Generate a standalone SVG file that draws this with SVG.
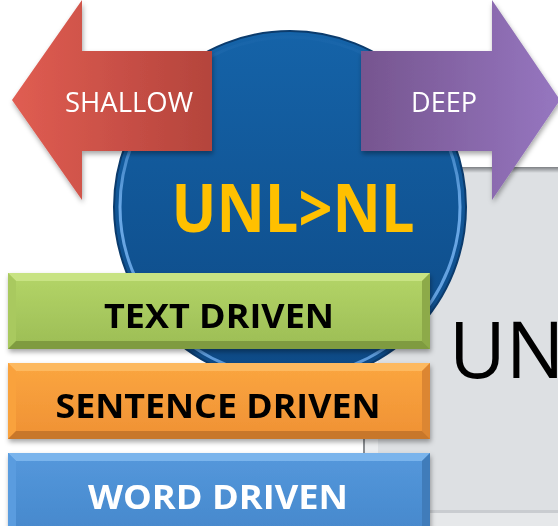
<svg xmlns="http://www.w3.org/2000/svg" width="558" height="526" viewBox="0 0 558 526">
<defs>
<style>
.lbl{font-family:"Open Sans","Liberation Sans",Arial,sans-serif;text-anchor:middle}
.bar{font-family:"Open Sans","Liberation Sans",Arial,sans-serif;font-weight:bold;text-anchor:middle;font-size:34px}
</style>
<linearGradient id="gRed" x1="0" y1="0" x2="1" y2="0"><stop offset="0" stop-color="#e05d52"/><stop offset="1" stop-color="#b4443c"/></linearGradient>
<linearGradient id="gPur" x1="0" y1="0" x2="1" y2="0"><stop offset="0" stop-color="#76558f"/><stop offset="1" stop-color="#9676c0"/></linearGradient>
<linearGradient id="gCir" x1="0" y1="0" x2="0" y2="1"><stop offset="0" stop-color="#1563a8"/><stop offset="1" stop-color="#0d4985"/></linearGradient>
<linearGradient id="gRing" x1="0" y1="0" x2="0" y2="1"><stop offset="0" stop-color="#1f69ae" stop-opacity="0.3"/><stop offset="0.5" stop-color="#6aa8e6"/><stop offset="1" stop-color="#5a98d8"/></linearGradient>
<linearGradient id="gGrn" x1="0" y1="0" x2="0" y2="1"><stop offset="0" stop-color="#b4d568"/><stop offset="1" stop-color="#9cbd55"/></linearGradient>
<linearGradient id="gOrg" x1="0" y1="0" x2="0" y2="1"><stop offset="0" stop-color="#fba640"/><stop offset="1" stop-color="#ef9134"/></linearGradient>
<linearGradient id="gBlu" x1="0" y1="0" x2="0" y2="1"><stop offset="0" stop-color="#5598dc"/><stop offset="1" stop-color="#4688cc"/></linearGradient>
<linearGradient id="gPanelTop" x1="0" y1="0" x2="0" y2="1"><stop offset="0" stop-color="#7d8084"/><stop offset="1" stop-color="#dde0e3"/></linearGradient>
<filter id="sh" x="-5%" y="-5%" width="110%" height="120%"><feDropShadow dx="1" dy="3" stdDeviation="2.5" flood-color="#000" flood-opacity="0.35"/></filter>
</defs>

<g id="panel">
<rect x="363" y="167" width="200" height="360" fill="#dde0e3"/>
<rect x="363" y="167" width="200" height="6" fill="url(#gPanelTop)"/>
<rect x="363" y="167" width="2" height="360" fill="#8a8d91"/>
<rect x="365" y="173" width="13" height="340" fill="#eceef0"/>
<rect x="363" y="510" width="200" height="3" fill="#c9ccd0"/>
<rect x="363" y="513" width="200" height="13" fill="#e6e8ea"/>
</g>

<g id="circle">
<circle cx="290" cy="207" r="176" fill="url(#gCir)" stroke="#0b3b6c" stroke-width="2"/>
<circle cx="290" cy="207" r="170" fill="none" stroke="url(#gRing)" stroke-width="3"/>
<text class="lbl" x="293" y="232" font-size="66" font-weight="bold" fill="#ffc000" textLength="243" lengthAdjust="spacingAndGlyphs">UNL&gt;NL</text>
</g>

<g id="shallow" filter="url(#sh)">
<polygon points="12,100 82,0 82,51 212,51 212,151 82,151 82,200" fill="url(#gRed)"/>
<text class="lbl" x="129" y="112" font-size="27" fill="#ffffff" textLength="128" lengthAdjust="spacingAndGlyphs">SHALLOW</text>
</g>

<g id="deep" filter="url(#sh)">
<polygon points="361,51 492,51 492,0 560,100 492,200 492,151 361,151" fill="url(#gPur)"/>
<text class="lbl" x="444" y="112" font-size="27" fill="#ffffff" textLength="66" lengthAdjust="spacingAndGlyphs">DEEP</text>
</g>

<g id="text-driven" filter="url(#sh)">
<rect x="8" y="273" width="422" height="76" fill="url(#gGrn)"/>
<polygon points="8,273 430,273 422,281 16,281" fill="#c8e383"/>
<polygon points="8,273 16,281 16,341 8,349" fill="#a9c95f"/>
<polygon points="430,273 430,349 422,341 422,281" fill="#8daa48"/>
<polygon points="8,349 16,341 422,341 430,349" fill="#7f9b3f"/>
<text class="bar" x="219" y="328" fill="#000000" textLength="230" lengthAdjust="spacingAndGlyphs">TEXT DRIVEN</text>
</g>

<g id="sentence-driven" filter="url(#sh)">
<rect x="8" y="363" width="422" height="76" fill="url(#gOrg)"/>
<polygon points="8,363 430,363 422,371 16,371" fill="#fdb95e"/>
<polygon points="8,363 16,371 16,431 8,439" fill="#f9a23e"/>
<polygon points="430,363 430,439 422,431 422,371" fill="#dc8630"/>
<polygon points="8,439 16,431 422,431 430,439" fill="#c8772a"/>
<text class="bar" x="218" y="418" fill="#000000" textLength="325" lengthAdjust="spacingAndGlyphs">SENTENCE DRIVEN</text>
</g>

<g id="word-driven" filter="url(#sh)">
<rect x="8" y="453" width="422" height="80" fill="url(#gBlu)"/>
<polygon points="8,453 430,453 422,461 16,461" fill="#7ab4ec"/>
<polygon points="8,453 16,461 16,526 8,526" fill="#5a9cdf"/>
<polygon points="430,453 430,526 422,526 422,461" fill="#3f7cba"/>
<text class="bar" x="218" y="509" fill="#ffffff" textLength="260" lengthAdjust="spacingAndGlyphs">WORD DRIVEN</text>
</g>

<g id="un-text">
<text x="449" y="378" font-family="Open Sans,Liberation Sans,Arial,sans-serif" font-size="78" fill="#000000">UN</text>
</g>
</svg>
